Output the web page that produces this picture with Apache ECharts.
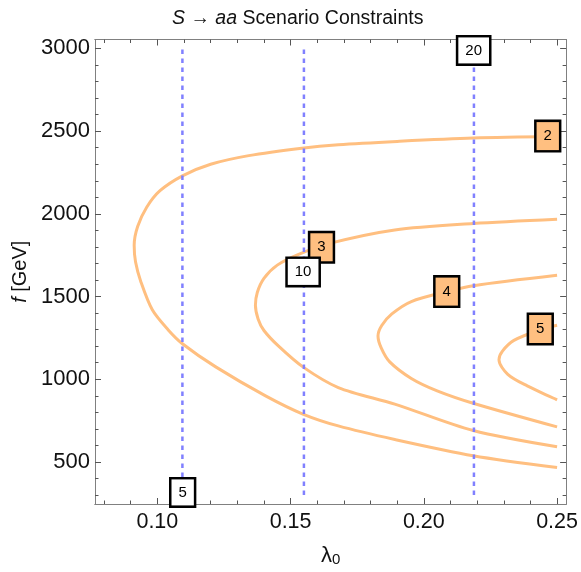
<!DOCTYPE html>
<html>
<head>
<meta charset="utf-8">
<script src="https://cdn.jsdelivr.net/npm/echarts@6/dist/echarts.min.js"></script>
<style>
  html, body { margin: 0; padding: 0; background: #fff; }
  #chart { width: 581px; height: 572px; }
</style>
</head>
<body>
<div id="chart"></div>
<script>
// contour curves, [lambda0, f]
var curve2 = [[0.25, 2467], [0.2185, 2458], [0.1900, 2438], [0.1679, 2418], [0.1542, 2397], [0.1343, 2352],
  [0.1200, 2300], [0.1094, 2230], [0.1010, 2140], [0.0960, 2040], [0.0926, 1923], [0.0913, 1810],
  [0.0918, 1710], [0.0938, 1590], [0.0981, 1420], [0.1040, 1300], [0.1094, 1215], [0.1219, 1075],
  [0.1406, 900], [0.1546, 790], [0.1679, 718], [0.1891, 636], [0.2185, 538], [0.25, 466]];
var curve3 = [[0.25, 1968], [0.2185, 1942], [0.1891, 1903], [0.1642, 1820], [0.1530, 1755], [0.1450, 1690],
  [0.1400, 1610], [0.1375, 1525], [0.1368, 1447], [0.1378, 1365], [0.1400, 1295], [0.1455, 1200],
  [0.1546, 1075], [0.1679, 950], [0.1891, 850], [0.2185, 690], [0.25, 592]];
var curve4 = [[0.25, 1629], [0.2185, 1566], [0.2086, 1530], [0.1953, 1470], [0.1880, 1395], [0.1842, 1325],
  [0.1828, 1262], [0.1840, 1190], [0.1872, 1105], [0.1953, 1005], [0.2050, 930], [0.2185, 855],
  [0.25, 712]];
var curve5 = [[0.25, 1327], [0.2437, 1300], [0.2338, 1235], [0.2295, 1170], [0.2282, 1118], [0.2315, 1030],
  [0.2388, 960], [0.25, 876]];

// vertical contours
var lineX = [0.1094, 0.155, 0.2188];
var lineRange = [300, 3000];

// contour labels
var levelLabels = ['2', '3', '4', '5'];
var levelLabelPos = [[0.2465, 2470], [0.1616, 1798], [0.2086, 1530], [0.2437, 1304]];
var lineLabels = ['5', '10', '20'];
var lineLabelPos = [[0.1095, 316], [0.1547, 1649], [0.2187, 2988]];

// ticks
var xMajor = [0.10, 0.15, 0.20, 0.25];
var xMinor = [0.08, 0.09, 0.11, 0.12, 0.13, 0.14, 0.16, 0.17, 0.18, 0.19, 0.21, 0.22, 0.23, 0.24];
var yMajor = [500, 1000, 1500, 2000, 2500, 3000];
var yMinor = [300, 400, 600, 700, 800, 900, 1100, 1200, 1300, 1400, 1600, 1700, 1800, 1900,
  2100, 2200, 2300, 2400, 2600, 2700, 2800, 2900];

var X_MIN = 0.0766, X_MAX = 0.2534, Y_MIN = 246, Y_MAX = 3054;
var ORANGE = '#ffbf80', BLUE = '#8080ff', FRAME = '#808080', TICK = '#555';
var FONT = 'Liberation Sans, Arial, sans-serif';

var chart = echarts.init(document.getElementById('chart'));

function xAx(pos, ticks, len, withLabels) {
  var a = {
    type: 'value', position: pos, min: X_MIN, max: X_MAX,
    axisLine: { show: true, onZero: false, lineStyle: { color: FRAME, width: 1 } },
    axisTick: { show: true, inside: true, length: len, customValues: ticks, lineStyle: { color: TICK, width: 1 } },
    axisLabel: { show: false },
    splitLine: { show: false }
  };
  if (withLabels) {
    a.axisLabel = {
      show: true, customValues: xMajor, margin: 7, color: '#111', fontSize: 21.5, fontFamily: FONT,
      formatter: function (v) { return v.toFixed(2); }
    };
    a.name = '{l|λ}{s|0}';
    a.nameLocation = 'middle';
    a.nameGap = 39;
    a.nameTextStyle = {
      rich: {
        l: { fontSize: 22, color: '#111', fontFamily: FONT, lineHeight: 24, verticalAlign: 'bottom' },
        s: { fontSize: 15, color: '#111', fontFamily: FONT, lineHeight: 10, verticalAlign: 'bottom' }
      }
    };
  }
  return a;
}

function yAx(pos, ticks, len, withLabels) {
  var a = {
    type: 'value', position: pos, min: Y_MIN, max: Y_MAX,
    axisLine: { show: true, onZero: false, lineStyle: { color: FRAME, width: 1 } },
    axisTick: { show: true, inside: true, length: len, customValues: ticks, lineStyle: { color: TICK, width: 1 } },
    axisLabel: { show: false },
    splitLine: { show: false }
  };
  if (withLabels) {
    a.axisLabel = {
      show: true, customValues: yMajor, margin: 5, color: '#111', fontSize: 22, fontFamily: FONT,
      formatter: function (v) { return String(v); }
    };
    a.name = '{i|f}{n| [GeV]}';
    a.nameLocation = 'middle';
    a.nameRotate = 90;
    a.nameGap = 56;
    a.nameTextStyle = {
      fontSize: 20, color: '#111', fontFamily: FONT,
      rich: {
        i: { fontSize: 20, fontStyle: 'italic', color: '#111', fontFamily: FONT },
        n: { fontSize: 20, color: '#111', fontFamily: FONT }
      }
    };
  }
  return a;
}

function curveSeries(data) {
  return {
    type: 'line', data: data, smooth: 0.3, symbol: 'none', z: 2,
    lineStyle: { color: ORANGE, width: 3 }
  };
}

var series = [curveSeries(curve2), curveSeries(curve3), curveSeries(curve4), curveSeries(curve5)];

lineX.forEach(function (x) {
  series.push({
    type: 'line', symbol: 'none', z: 3,
    data: [[x, lineRange[0]], [x, lineRange[1]]],
    lineStyle: { color: BLUE, width: 2.5, type: [4.5, 4.5] }
  });
});

function boxSeries(names, pos, fill, pad) {
  return {
    type: 'scatter', symbolSize: 0, z: 10, clip: false, silent: true,
    itemStyle: { opacity: 1 },
    data: names.map(function (n, i) { return { value: pos[i], name: n }; }),
    label: {
      show: true, position: 'inside', formatter: '{b}', opacity: 1,
      fontSize: 15, lineHeight: 16, color: '#000', fontFamily: FONT,
      textBorderWidth: 0, textShadowBlur: 0,
      backgroundColor: fill, borderColor: '#000', borderWidth: 2.5,
      padding: pad
    }
  };
}

series.push(boxSeries(levelLabels, levelLabelPos, ORANGE, [6, 7]));
series.push(boxSeries(lineLabels, lineLabelPos, '#fff', [5, 7]));

chart.setOption({
  animation: false,
  backgroundColor: '#fff',
  title: {
    text: '{i|S}{n| → }{i|aa}{n| Scenario Constraints}',
    left: 172, top: 9, padding: 0,
    textStyle: {
      fontSize: 19.5, fontWeight: 'normal', color: '#111', fontFamily: FONT,
      rich: {
        i: { fontSize: 19.5, fontStyle: 'italic', color: '#111', fontFamily: FONT },
        n: { fontSize: 19.5, color: '#111', fontFamily: FONT }
      }
    }
  },
  grid: { left: 95, right: 13, top: 39.5, bottom: 60, containLabel: false },
  xAxis: [
    xAx('bottom', xMajor, 6, true),
    xAx('bottom', xMinor, 3.5, false),
    xAx('top', xMajor, 6, false),
    xAx('top', xMinor, 3.5, false)
  ],
  yAxis: [
    yAx('left', yMajor, 6, true),
    yAx('left', yMinor, 3.5, false),
    yAx('right', yMajor, 6, false),
    yAx('right', yMinor, 3.5, false)
  ],
  series: series
});
</script>
</body>
</html>
